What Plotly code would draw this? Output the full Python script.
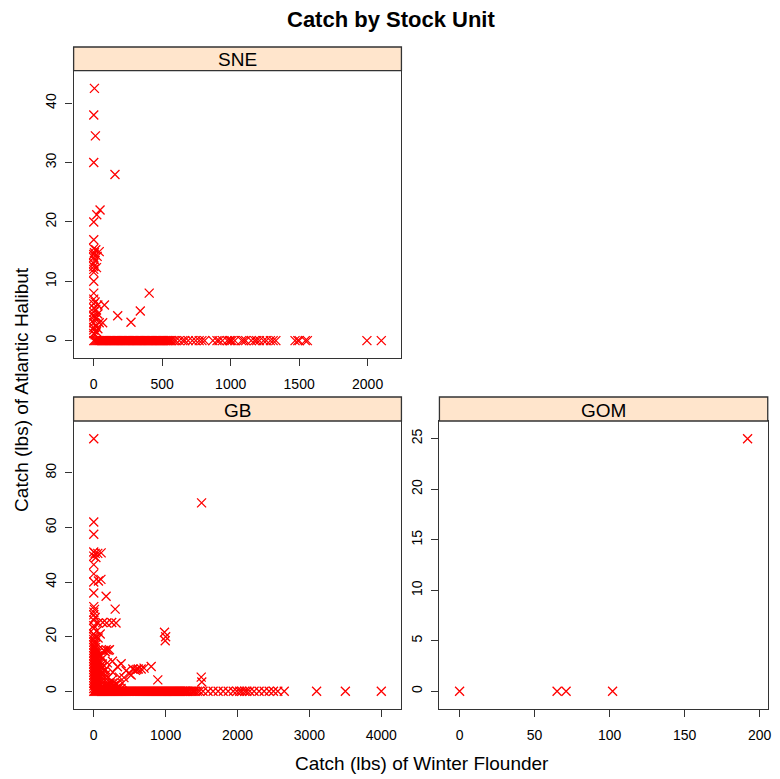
import plotly.graph_objects as go

# ---------------- data ----------------
panel_names = ["SNE", "GB", "GOM"]

sne_points = [
    (5, 42.5), (0, 38), (12, 34.5), (0, 30), (155, 28), (46, 22), (22, 21.2), (0, 20), (0, 17),
    (0, 15.5), (15, 15.3), (40, 15), (5, 14.8), (0, 14.5), (25, 14.2), (0, 14), (10, 13.5),
    (0, 13), (0, 12.5), (20, 12.3), (0, 12), (0, 11.5), (0, 10), (0, 8), (405, 8), (0, 7),
    (10, 6.5), (0, 6.2), (78, 6), (30, 6), (0, 5.5), (15, 5.2), (340, 5), (0, 4.8), (30, 4.5),
    (0, 4.3), (175, 4.2), (0, 4), (20, 3.8), (0, 3.5), (272, 3.1), (65, 3), (40, 3), (0, 3),
    (15, 2.5), (0, 2.2), (30, 2), (0, 1.8), (20, 1.5), (0, 1.2), (10, 1),
]

# catches with zero halibut in SNE
sne_zero_x = [
    0, 8, 16, 24, 32, 40, 48, 56, 64, 72, 80, 88, 96, 104, 112, 120, 128, 136, 144, 152, 160,
    168, 176, 184, 192, 200, 208, 216, 224, 232, 240, 248, 256, 264, 272, 280, 288, 296, 304,
    312, 320, 328, 336, 344, 352, 360, 368, 376, 384, 392, 400, 408, 416, 424, 432, 440, 448,
    456, 464, 472, 480, 488, 496, 504, 512, 520, 528, 536, 544, 552, 560, 570,
    585, 600, 625, 650, 665, 690, 720, 745, 770, 790, 810, 870, 900, 915, 940, 975, 990, 1000,
    1010, 1030, 1080, 1095, 1110, 1150, 1175, 1190, 1210, 1240, 1260, 1290, 1310, 1330,
    1470, 1490, 1500, 1545, 1560, 1995, 2100,
]

gb_points = [
    (0, 92.5), (1500, 69), (0, 62), (0, 57.5), (0, 51), (20, 50.5), (56, 50.5), (103, 50.7),
    (0, 49.5), (30, 49), (0, 46.4), (0, 43), (65, 40.4), (0, 40), (100, 41), (0, 36),
    (172, 34.8), (0, 31), (10, 30), (298, 30.1), (0, 29), (0, 28), (20, 27), (0, 26),
    (125, 25.2), (180, 25), (250, 25.2), (310, 25), (60, 25), (0, 24), (0, 23), (40, 22),
    (0, 21), (984, 21.6), (1000, 20), (994, 18.5), (60, 19.5), (90, 21), (30, 20),
    (140, 15), (172, 15.2), (200, 15), (218, 15.2), (160, 14.5),
    (190, 10.4), (381, 10.1), (543, 8.2), (660, 8.2), (799, 9.1), (497, 6.4), (358, 5.2),
    (265, 7), (891, 4.2), (1495, 5.2), (1503, 3.4), (312, 2.8), (150, 7.5), (450, 7.5),
    (600, 8), (700, 8.5), (420, 5), (520, 6), (250, 4), (200, 3), (350, 2), (580, 7.7),
    (620, 8.2), (330, 9), (260, 11), (120, 12), (100, 13), (400, 3),
    (0, 1), (0, 2), (0, 3), (0, 4), (0, 5), (0, 6), (0, 7), (0, 8), (0, 9), (0, 10),
    (0, 11), (0, 12), (0, 13), (0, 14), (0, 15), (0, 16), (0, 17), (0, 18), (0, 19), (0, 20),
    (25, 1), (25, 2), (25, 3), (25, 4), (25, 5), (25, 6), (25, 7), (25, 8), (25, 9), (25, 10),
    (25, 11), (25, 12), (25, 13), (25, 14), (25, 15), (25, 16), (25, 17), (25, 18),
    (50, 1), (50, 2), (50, 3), (50, 4), (50, 5), (50, 6), (50, 7), (50, 8), (50, 9), (50, 10),
    (50, 11), (50, 12), (50, 13), (50, 14), (50, 15),
    (80, 1), (80, 2), (80, 3), (80, 4), (80, 5), (80, 6), (80, 7), (80, 8), (80, 9), (80, 10),
    (80, 11), (80, 13),
    (120, 1), (120, 2), (120, 3), (120, 4), (120, 5), (120, 6), (120, 7), (120, 9), (120, 10),
    (160, 1), (160, 2), (160, 3), (160, 5), (160, 6), (160, 8),
    (200, 1), (200, 2), (200, 5), (230, 1), (230, 3), (270, 1), (270, 2), (310, 1),
    (100, 1), (140, 1), (180, 2), (220, 2), (260, 3), (300, 2), (340, 1), (380, 1),
]

# catches with zero halibut in GB
gb_zero_x = [
    0, 14, 28, 42, 56, 70, 84, 98, 112, 126, 140, 154, 168, 182, 196, 210, 224, 238, 252, 266,
    280, 294, 308, 322, 336, 350, 364, 378, 392, 406, 420, 434, 448, 462, 476, 490, 504, 518,
    532, 546, 560, 574, 588, 602, 616, 630, 644, 658, 672, 686, 700, 714, 728, 742, 756, 770,
    784, 798, 812, 826, 840, 854, 868, 882, 896, 910, 924, 938, 952, 966, 980, 994, 1008, 1022,
    1036, 1050, 1064, 1078, 1092, 1106, 1120, 1134, 1148, 1162, 1176, 1190, 1204, 1218, 1232,
    1246, 1260, 1274, 1288, 1302, 1320, 1345, 1370, 1390, 1410, 1440,
    1470, 1520, 1590, 1660, 1730, 1800, 1870, 1940, 1990, 2030, 2060, 2100, 2130, 2170,
    2230, 2300, 2370, 2440, 2500, 2560, 2650, 3100, 3500, 4000,
]

gom_points = [(0, 0), (65, 0), (71, 0), (102, 0), (192, 25)]

x_ticks = {"SNE": [0, 500, 1000, 1500, 2000], "GB": [0, 1000, 2000, 3000, 4000],
           "GOM": [0, 50, 100, 150, 200]}
y_ticks = {"SNE": [0, 10, 20, 30, 40], "GB": [0, 20, 40, 60, 80], "GOM": [0, 5, 10, 15, 20, 25]}

title_text = "Catch by Stock Unit"
x_label = "Catch (lbs) of Winter Flounder"
y_label = "Catch (lbs) of Atlantic Halibut"

# ---------------- layout geometry ----------------
W, H = 780, 779
FONT = "Liberation Sans, Arial, Helvetica, sans-serif"


def px_x(p):
    return p / W


def px_y(p):
    return 1 - p / H


panels = {
    "SNE": dict(x0=74, x1=403.5, y0=70.7, y1=358.3, s0=47),
    "GB": dict(x0=74, x1=403.5, y0=421, y1=709, s0=397),
    "GOM": dict(x0=441.7, x1=771.7, y0=421, y1=709, s0=397),
}
data = {
    "SNE": sne_points + [(x, 0) for x in sne_zero_x],
    "GB": gb_points + [(x, 0) for x in gb_zero_x],
    "GOM": gom_points,
}

fig = go.Figure()
shapes = []
annotations = []
layout_axes = {}

for i, name in enumerate(panel_names):
    idx = "" if i == 0 else str(i + 1)
    pts = data[name]
    xs = [p[0] for p in pts]
    ys = [p[1] for p in pts]
    fig.add_trace(go.Scatter(
        x=xs, y=ys, mode="markers", xaxis="x" + idx, yaxis="y" + idx,
        marker=dict(symbol="x-thin", size=9, color="#FF0000",
                    line=dict(color="#FF0000", width=1.3)),
        showlegend=False, hoverinfo="x+y",
    ))
    g = panels[name]
    xmin, xmax = min(xs), max(xs)
    ymin, ymax = min(ys), max(ys)
    xpad = 0.07 * (xmax - xmin)
    ypad = 0.07 * (ymax - ymin)
    common = dict(showgrid=False, zeroline=False, showline=True, mirror=True,
                  linecolor="#333333", linewidth=1.3, ticks="outside", ticklen=7,
                  tickwidth=1.3, tickcolor="#333333",
                  tickfont=dict(family=FONT, size=14, color="#000000"))
    layout_axes["xaxis" + idx] = dict(
        common, domain=[px_x(g["x0"]), px_x(g["x1"])], range=[xmin - xpad, xmax + xpad],
        tickvals=x_ticks[name], anchor="y" + idx, ticklabelstandoff=6)
    layout_axes["yaxis" + idx] = dict(
        common, domain=[px_y(g["y1"]), px_y(g["y0"])], range=[ymin - ypad, ymax + ypad],
        tickvals=y_ticks[name], anchor="x" + idx, tickangle=-90, ticklabelstandoff=4)
    # strip
    shapes.append(dict(type="rect", xref="paper", yref="paper",
                       x0=px_x(g["x0"]), x1=px_x(g["x1"]),
                       y0=px_y(g["y0"]), y1=px_y(g["s0"]),
                       fillcolor="#FFE5CC", line=dict(color="#333333", width=1.3),
                       layer="above"))
    annotations.append(dict(text=name, xref="paper", yref="paper",
                            x=(px_x(g["x0"]) + px_x(g["x1"])) / 2,
                            y=px_y((g["s0"] + g["y0"]) / 2 + 1),
                            showarrow=False, xanchor="center", yanchor="middle",
                            font=dict(family=FONT, size=19, color="#000000")))

annotations.append(dict(text="<b>" + title_text + "</b>", xref="paper", yref="paper",
                        x=px_x(393), y=px_y(20), showarrow=False,
                        xanchor="center", yanchor="middle",
                        font=dict(family=FONT, size=22, color="#000000")))
annotations.append(dict(text=x_label, xref="paper", yref="paper",
                        x=px_x(424), y=px_y(763), showarrow=False,
                        xanchor="center", yanchor="middle",
                        font=dict(family=FONT, size=19, color="#000000")))
annotations.append(dict(text=y_label, xref="paper", yref="paper",
                        x=px_x(21), y=px_y(389), showarrow=False, textangle=-90,
                        xanchor="center", yanchor="middle",
                        font=dict(family=FONT, size=19, color="#000000")))

fig.update_layout(
    width=W, height=H, margin=dict(l=0, r=0, t=0, b=0),
    paper_bgcolor="white", plot_bgcolor="white",
    shapes=shapes, annotations=annotations, **layout_axes,
)

fig.write_html("out.html")
